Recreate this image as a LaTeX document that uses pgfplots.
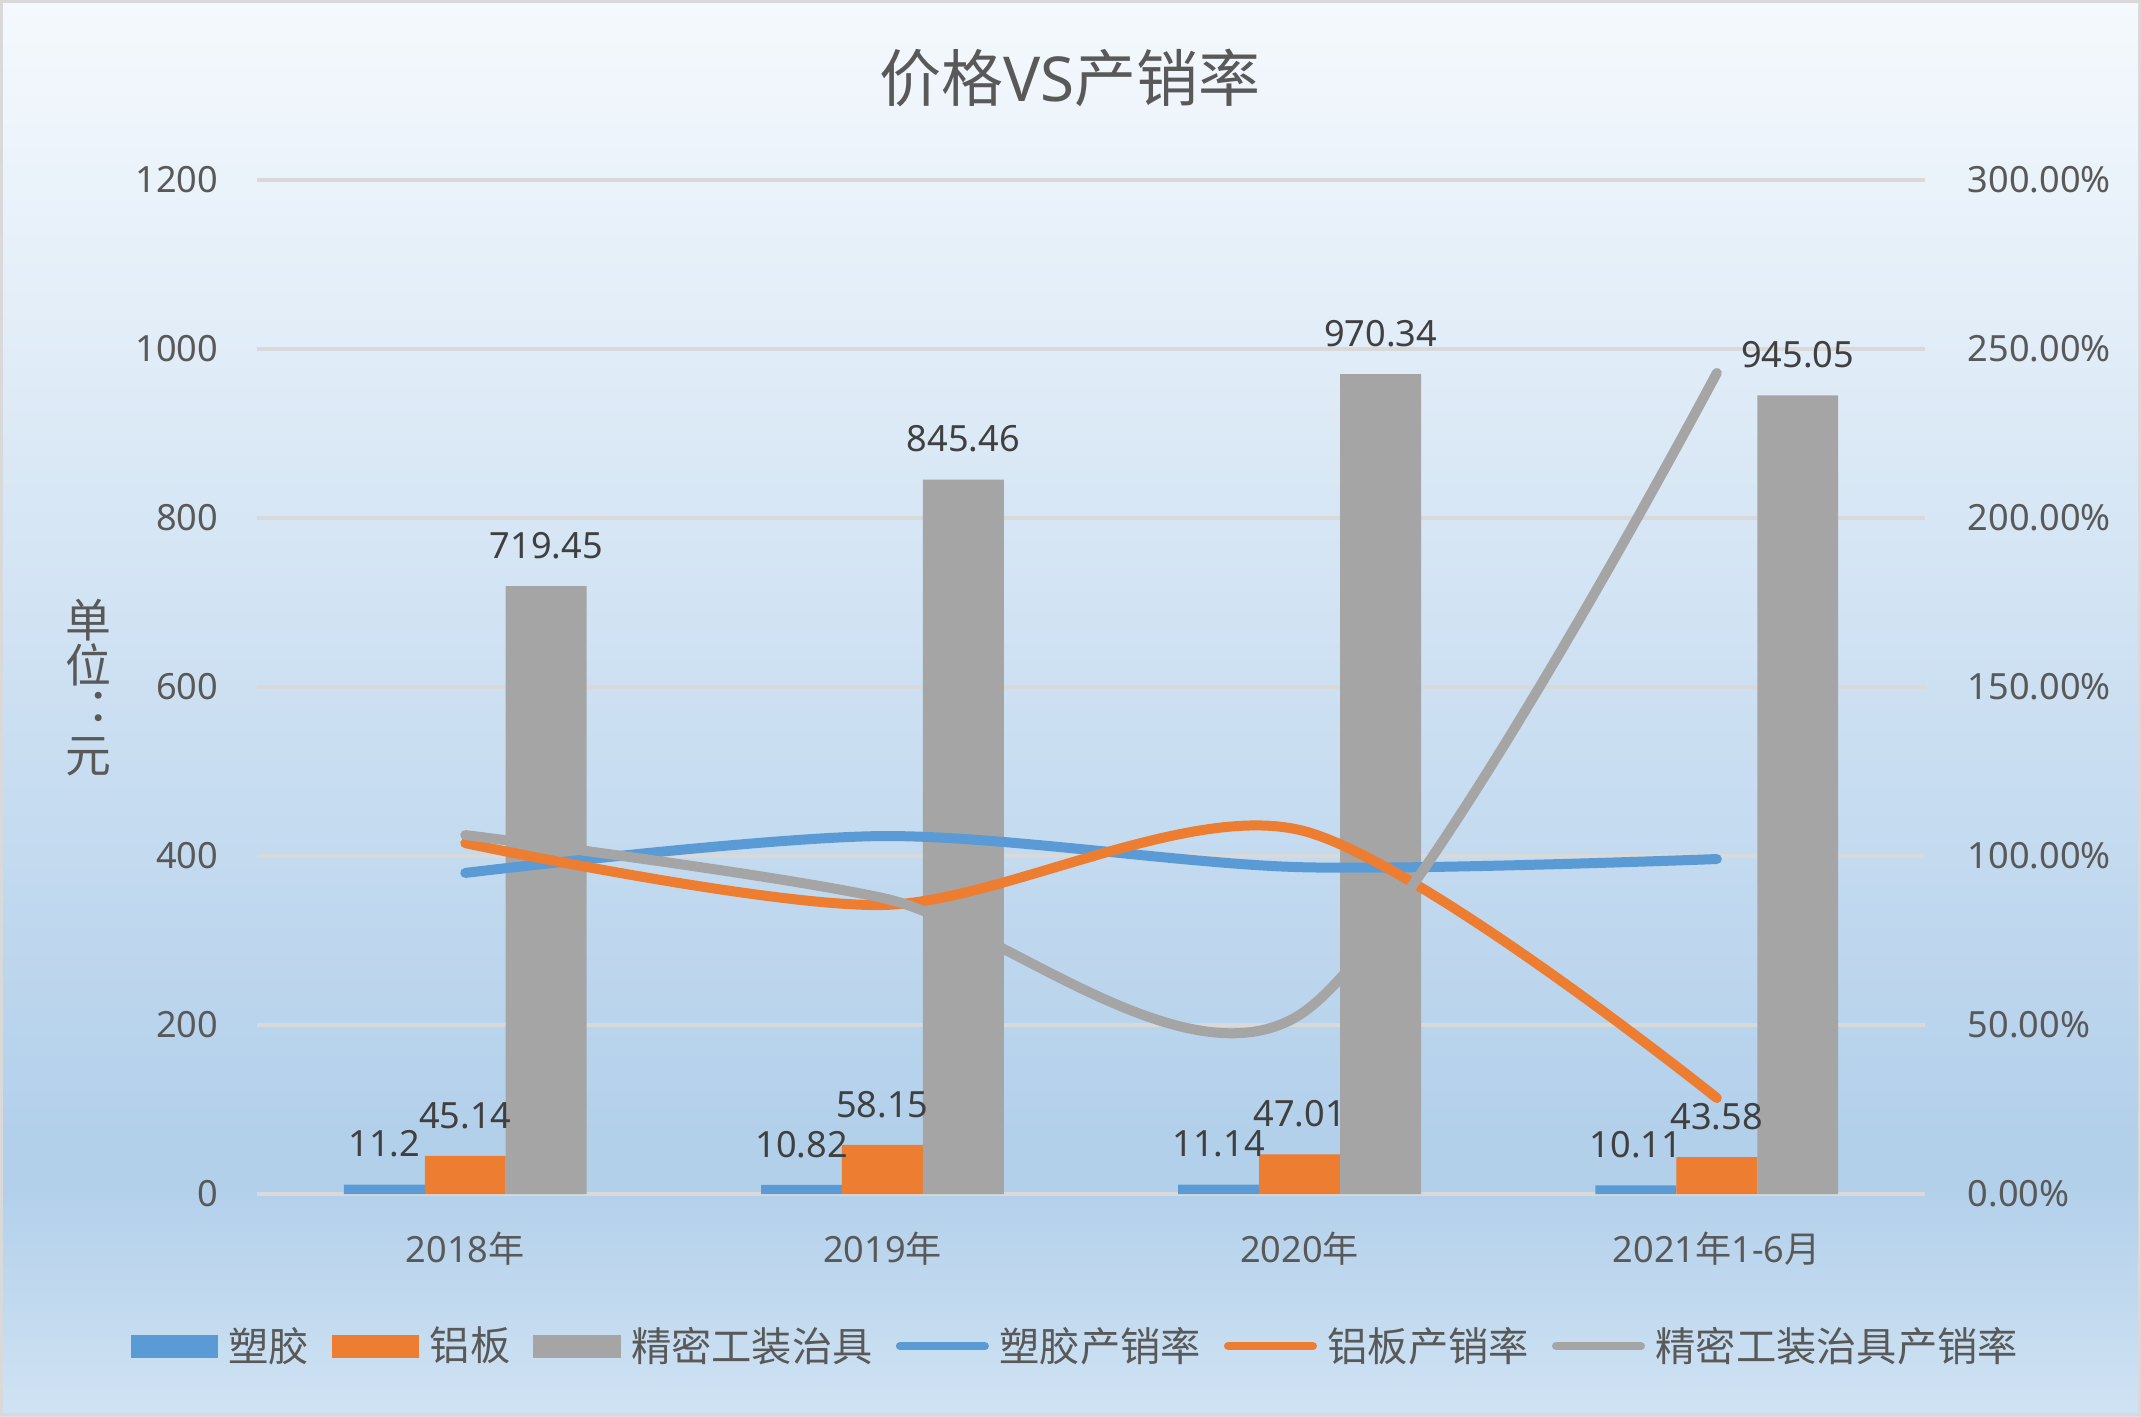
\documentclass[border=0pt]{standalone}
\usepackage{pgfplots}
\pgfplotsset{compat=1.18}
\usepackage{fontspec}
\setmainfont{Noto Sans}
\newfontfamily\cjk{Noto Sans CJK SC}
\definecolor{cblue}{HTML}{5B9BD5}
\definecolor{corange}{HTML}{ED7D31}
\definecolor{cgray}{HTML}{A5A5A5}
\definecolor{txt}{HTML}{595959}
\definecolor{lbl}{HTML}{404040}
\definecolor{gridc}{HTML}{D9D9D9}
\definecolor{bgtop}{HTML}{F5F9FD}
\definecolor{bgmid}{HTML}{B3D0EB}
\definecolor{bgbot}{HTML}{D0E3F3}
\pgfdeclareverticalshading{bgshade}{100bp}{color(0bp)=(bgbot); color(25bp)=(bgbot); color(33bp)=(bgmid); color(35bp)=(bgmid); color(75bp)=(bgtop); color(100bp)=(bgtop)}
\begin{document}
\begin{tikzpicture}
\shade[shading=bgshade] (0,0) rectangle (770.76pt,509.76pt);
\draw[gridc, line width=1.1pt] (0.55pt,0.55pt) rectangle (770.21pt,509.21pt);
\node[font=\fontsize{22.3}{26}\selectfont, text=txt] at (385.2pt,481.7pt) {{\cjk 价格}VS{\cjk 产销率}};
\node[font=\cjk\fontsize{16.5}{16.2}\selectfont, text=txt, align=center] at (31.7pt,262.1pt) {单\\位\\︓\\元};
\begin{axis}[
  at={(92.41pt,79.92pt)}, anchor=south west, scale only axis,
  width=600.73pt, height=365.04pt,
  xmin=-0.5, xmax=3.5, ymin=0, ymax=1200,
  xtick={0,1,2,3},
  xticklabels={{2018{\cjk 年}},{2019{\cjk 年}},{2020{\cjk 年}},{2021{\cjk 年}1-6{\cjk 月}}},
  ytick={0,200,400,600,800,1000,1200},
  yticklabels={0,200,400,600,800,1000,1200},
  ymajorgrids, grid style={gridc, line width=1.1pt},
  axis line style={draw=none}, major tick length=0pt, tick style={draw=none},
  tick label style={font=\fontsize{13}{15}\selectfont, text=txt},
  y tick label style={inner sep=0pt, xshift=-13.7pt},
  x tick label style={anchor=center, yshift=-19.8pt},
  ybar, bar width=0.194,
  nodes near coords={\pgfplotspointmeta}, point meta=explicit symbolic,
  every node near coord/.append style={font=\fontsize{13}{15}\selectfont, text=lbl, yshift=6.3pt},
  clip=false,
]
\addplot[fill=cblue, draw=none, bar shift=-0.194] coordinates {(0,11.2)[11.2] (1,10.82)[10.82] (2,11.14)[11.14] (3,10.11)[10.11]};
\addplot[fill=corange, draw=none, bar shift=0] coordinates {(0,45.14)[45.14] (1,58.15)[58.15] (2,47.01)[47.01] (3,43.58)[43.58]};
\addplot[fill=cgray, draw=none, bar shift=0.194] coordinates {(0,719.45)[719.45] (1,845.46)[845.46] (2,970.34)[970.34] (3,945.05)[945.05]};
\end{axis}
\begin{axis}[
  at={(92.41pt,79.92pt)}, anchor=south west, scale only axis,
  width=600.73pt, height=365.04pt,
  xmin=-0.5, xmax=3.5, ymin=0, ymax=300,
  axis y line*=right, axis x line=none,
  ytick={0,50,...,300},
  yticklabels={0.00\%,50.00\%,100.00\%,150.00\%,200.00\%,250.00\%,300.00\%},
  axis line style={draw=none}, major tick length=0pt, tick style={draw=none},
  y tick label style={font=\fontsize{13}{15}\selectfont, text=txt, inner sep=0pt, xshift=15.1pt},
  clip=false,
  legend columns=6,
  legend style={at={(0.49,-0.15)}, anchor=center, draw=none, fill=none,
    font=\cjk\fontsize{14.5}{17}\selectfont, text=txt, inner sep=0pt, outer sep=0pt,
    nodes={inner sep=0pt},
    column sep=0pt,
    /tikz/every odd column/.append style={column sep=3.8pt},
    /tikz/every even column/.append style={column sep=8.3pt}},
]
\addlegendimage{legend image code/.code={\fill[cblue] (0pt,-3.95pt) rectangle (31pt,3.95pt);}}
\addlegendentry{塑胶}
\addlegendimage{legend image code/.code={\fill[corange] (0pt,-3.95pt) rectangle (31pt,3.95pt);}}
\addlegendentry{铝板}
\addlegendimage{legend image code/.code={\fill[cgray] (0pt,-3.95pt) rectangle (31pt,3.95pt);}}
\addlegendentry{精密工装治具}
\addplot[cblue, line width=3.6pt, line cap=round, smooth, tension=0.5,
  legend image code/.code={\draw[cblue, line width=3pt, line cap=round] (1.5pt,0pt) -- (32pt,0pt);}]
  coordinates {(0,95.0) (1,105.9) (2,96.7) (3,99.1)};
\addlegendentry{塑胶产销率}
\addplot[corange, line width=3.6pt, line cap=round, smooth, tension=0.5,
  legend image code/.code={\draw[corange, line width=3pt, line cap=round] (1.5pt,0pt) -- (32pt,0pt);}]
  coordinates {(0,103.8) (1,85.5) (2,107.7) (3,28.4)};
\addlegendentry{铝板产销率}
\addplot[cgray, line width=3.6pt, line cap=round, smooth, tension=0.5,
  legend image code/.code={\draw[cgray, line width=3pt, line cap=round] (1.5pt,0pt) -- (32pt,0pt);}]
  coordinates {(0,106.2) (1,87.6) (2,53) (3,242.9)};
\addlegendentry{精密工装治具产销率}
\end{axis}
\end{tikzpicture}
\end{document}
